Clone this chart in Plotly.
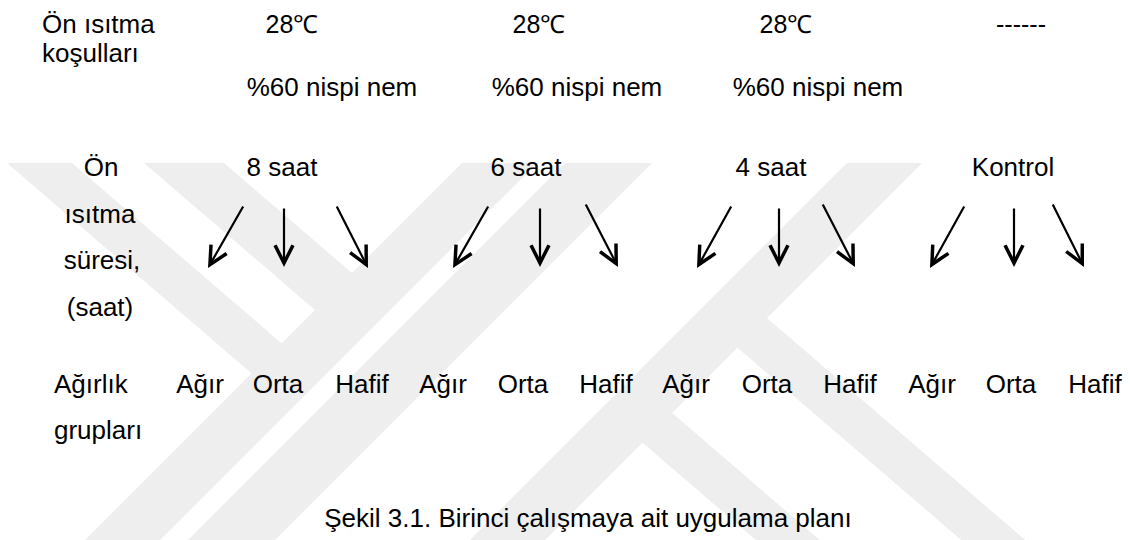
import plotly.graph_objects as go

# ---------------- texts of the plan ----------------
side_labels = ["Ön ısıtma", "koşulları", "Ağırlık", "grupları"]
side_x = [42, 42, 54, 54]
side_y = [26, 55, 386, 432]

stacked_labels = ["Ön", "ısıtma", "süresi,", "(saat)"]
stacked_x = [101, 100, 102, 100]
stacked_y = [169, 216, 262, 309]

temps = ["28℃", "28℃", "28℃", "------"]
temp_x = [292, 539, 786, 1021]

humidity = ["%60 nispi nem", "%60 nispi nem", "%60 nispi nem"]
humidity_x = [332, 577, 818]

durations = ["8 saat", "6 saat", "4 saat", "Kontrol"]
duration_x = [282, 526, 771, 1013]

weights = ["Ağır", "Orta", "Hafif"] * 4
weight_x = [200, 278, 362, 443, 523, 606, 686, 767, 850, 932, 1011, 1095]

caption = "Şekil 3.1. Birinci çalışmaya ait uygulama planı"

# arrows: tail -> tip, three per duration group
arrow_tail_x = [244, 284, 336, 489, 540, 585, 732, 779, 822, 965, 1014, 1052]
arrow_tail_y = [205, 207, 205, 205, 207, 203, 205, 207, 203, 205, 207, 203]
arrow_tip_x = [208, 284, 368, 453, 540, 618, 697, 779, 855, 930, 1014, 1084]
arrow_tip_y = [268, 267, 268, 268, 267, 267, 268, 267, 267, 268, 267, 267]

FONT = "Liberation Sans, Arial, sans-serif"
FS = 26
W, H = 1130, 540

fig = go.Figure()


def add_text(xs, ys, texts, pos, size=FS, family=FONT):
    fig.add_trace(go.Scatter(
        x=xs, y=ys, text=texts, mode="text",
        textposition=pos, cliponaxis=False,
        textfont=dict(family=family, size=size, color="black"),
        hoverinfo="skip", showlegend=False))


add_text(side_x, side_y, side_labels, "middle right")
add_text(stacked_x, stacked_y, stacked_labels, "middle center")
add_text(temp_x, [27] * len(temps), temps, "middle center", size=25)
add_text(humidity_x, [89] * len(humidity), humidity, "middle center")
add_text(duration_x, [169] * len(durations), durations, "middle center")
add_text(weight_x, [386] * len(weights), weights, "middle center")
add_text([588], [520], [caption], "middle center")

for tx, ty, hx, hy in zip(arrow_tail_x, arrow_tail_y, arrow_tip_x, arrow_tip_y):
    fig.add_annotation(
        x=hx, y=hy, ax=tx, ay=ty, xref="x", yref="y", axref="x", ayref="y",
        text="", showarrow=True, arrowhead=5, arrowsize=1.6, arrowwidth=2.2,
        arrowcolor="black", standoff=0, startstandoff=0)

# ---------------- light watermark behind the plan ----------------
WM = "#eeeeee"
T, B = 163, 560
S = 0.86


def poly(pts):
    return "M " + " L ".join(f"{x:.1f},{y:.1f}" for x, y in pts) + " Z"


def slash(cl, cr):
    return poly([(cl - T, T), (cr - T, T), (cr - B, B), (cl - B, B)])


def back_top(a, b, c):
    # "\" band cut at the top, ending on the "/" line x + y = c
    pa = (c - T + S * a) / (1 + S)
    pb = (c - T + S * b) / (1 + S)
    return poly([(a, T), (b, T), (pb, T + S * (pb - b)), (pa, T + S * (pa - a))])


def back_low(x0, y0, w, c):
    # "\" band leaving the "/" line x + y = c towards the lower right
    xu = (c - y0 + S * x0) / (1 + S)
    xl = (c - y0 - w + S * x0) / (1 + S)
    xe = 1300
    return poly([(xu, y0 + S * (xu - x0)), (xe, y0 + S * (xe - x0)),
                 (xe, y0 + w + S * (xe - x0)), (xl, y0 + w + S * (xl - x0))])


paths = [
    slash(625, 700),
    slash(728, 815),
    slash(1010, 1085),
    back_top(7, 72, 660),
    back_top(144, 224, 660),
    back_low(767, 318, 55, 1050),
    back_low(672, 413, 55, 1050),
]
for p in paths:
    fig.add_shape(type="path", path=p, xref="x", yref="y",
                  fillcolor=WM, line=dict(width=0), layer="below")

fig.update_xaxes(range=[0, W], visible=False, fixedrange=True)
fig.update_yaxes(range=[H, 0], visible=False, fixedrange=True)
fig.update_layout(
    width=W, height=H, autosize=False,
    margin=dict(l=0, r=0, t=0, b=0),
    paper_bgcolor="white", plot_bgcolor="white",
    showlegend=False)

# the page's default body margin would push the figure 8px off
fig.write_html("out.html", config={"displayModeBar": False},
               post_script="document.body.style.margin='0';")
